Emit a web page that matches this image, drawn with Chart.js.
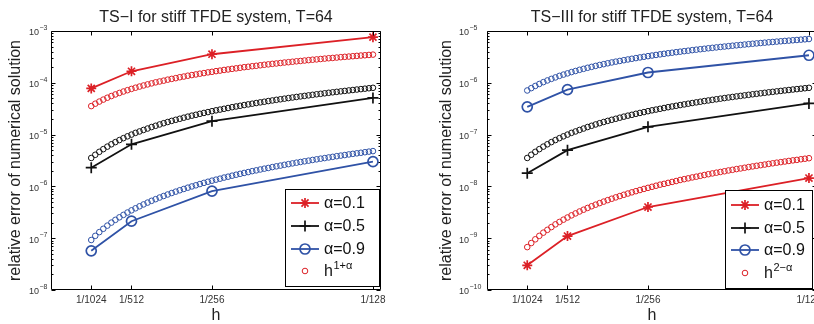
<!DOCTYPE html>
<html>
<head>
<meta charset="utf-8">
<script src="https://cdn.jsdelivr.net/npm/chart.js@4/dist/chart.umd.min.js"></script>
<style>
html,body{margin:0;padding:0;background:#fff;overflow:hidden}
#wrap{position:relative;width:814px;height:324px;overflow:hidden;background:#fff}
canvas{position:absolute;top:0}
</style>
</head>
<body>
<div id="wrap">
<canvas id="c1" width="431" height="324" style="left:0;width:431px;height:324px"></canvas>
<canvas id="c2" width="400" height="324" style="left:431px;width:400px;height:324px"></canvas>
</div>
<script>
// ---------- data (h in units of 1/1024) ----------
const hMain = [1, 2, 4, 8];
const xTickValues = [1, 2, 4, 8];
const xTickLabels = ['1/1024', '1/512', '1/256', '1/128'];
const seriesLabels = ['α=0.1', 'α=0.5', 'α=0.9'];

const hFine = [1.0,1.1,1.2,1.3,1.4,1.5,1.6,1.7,1.8,1.9,
  2.0,2.1,2.2,2.3,2.4,2.5,2.6,2.7,2.8,2.9,
  3.0,3.1,3.2,3.3,3.4,3.5,3.6,3.7,3.8,3.9,
  4.0,4.1,4.2,4.3,4.4,4.5,4.6,4.7,4.8,4.9,
  5.0,5.1,5.2,5.3,5.4,5.5,5.6,5.7,5.8,5.9,
  6.0,6.1,6.2,6.3,6.4,6.5,6.6,6.7,6.8,6.9,
  7.0,7.1,7.2,7.3,7.4,7.5,7.6,7.7,7.8,7.9,8.0];

// Left panel: TS-I
const leftTitle = 'TS−I for stiff TFDE system, T=64';
const leftYExps = [-8, -7, -6, -5, -4, -3];
const errL01 = [7.8e-5, 1.67e-4, 3.56e-4, 7.6e-4];
const errL05 = [2.3e-6, 6.5e-6, 1.82e-5, 5.1e-5];
const errL09 = [5.7e-8, 2.13e-7, 8.1e-7, 3.0e-6];
const refL01 = [3.55e-5,3.95e-5,4.34e-5,4.74e-5,5.15e-5,5.55e-5,5.96e-5,6.37e-5,6.79e-5,7.20e-5,
  7.62e-5,8.04e-5,8.46e-5,8.88e-5,9.31e-5,9.74e-5,1.02e-4,1.06e-4,1.10e-4,1.15e-4,
  1.19e-4,1.23e-4,1.28e-4,1.32e-4,1.37e-4,1.41e-4,1.45e-4,1.50e-4,1.54e-4,1.59e-4,
  1.63e-4,1.68e-4,1.72e-4,1.77e-4,1.81e-4,1.86e-4,1.90e-4,1.95e-4,2.00e-4,2.04e-4,
  2.09e-4,2.13e-4,2.18e-4,2.23e-4,2.27e-4,2.32e-4,2.36e-4,2.41e-4,2.46e-4,2.50e-4,
  2.55e-4,2.60e-4,2.64e-4,2.69e-4,2.74e-4,2.79e-4,2.83e-4,2.88e-4,2.93e-4,2.98e-4,
  3.02e-4,3.07e-4,3.12e-4,3.17e-4,3.21e-4,3.26e-4,3.31e-4,3.36e-4,3.40e-4,3.45e-4,3.50e-4];
const refL05 = [3.54e-6,4.08e-6,4.65e-6,5.24e-6,5.86e-6,6.50e-6,7.16e-6,7.84e-6,8.54e-6,9.26e-6,
  1.00e-5,1.08e-5,1.15e-5,1.23e-5,1.31e-5,1.40e-5,1.48e-5,1.57e-5,1.66e-5,1.75e-5,
  1.84e-5,1.93e-5,2.02e-5,2.12e-5,2.22e-5,2.32e-5,2.41e-5,2.52e-5,2.62e-5,2.72e-5,
  2.83e-5,2.94e-5,3.04e-5,3.15e-5,3.26e-5,3.38e-5,3.49e-5,3.60e-5,3.72e-5,3.83e-5,
  3.95e-5,4.07e-5,4.19e-5,4.31e-5,4.44e-5,4.56e-5,4.69e-5,4.81e-5,4.94e-5,5.07e-5,
  5.20e-5,5.33e-5,5.46e-5,5.59e-5,5.72e-5,5.86e-5,6.00e-5,6.13e-5,6.27e-5,6.41e-5,
  6.55e-5,6.69e-5,6.83e-5,6.97e-5,7.12e-5,7.26e-5,7.41e-5,7.55e-5,7.70e-5,7.85e-5,8.00e-5];
const refL09 = [9.23e-8,1.11e-7,1.31e-7,1.52e-7,1.75e-7,2.00e-7,2.26e-7,2.53e-7,2.82e-7,3.13e-7,
  3.45e-7,3.78e-7,4.13e-7,4.49e-7,4.87e-7,5.27e-7,5.67e-7,6.10e-7,6.53e-7,6.98e-7,
  7.45e-7,7.92e-7,8.42e-7,8.92e-7,9.45e-7,9.98e-7,1.05e-6,1.11e-6,1.17e-6,1.23e-6,
  1.29e-6,1.35e-6,1.41e-6,1.48e-6,1.54e-6,1.61e-6,1.68e-6,1.75e-6,1.82e-6,1.89e-6,
  1.97e-6,2.04e-6,2.12e-6,2.20e-6,2.27e-6,2.36e-6,2.44e-6,2.52e-6,2.61e-6,2.69e-6,
  2.78e-6,2.87e-6,2.96e-6,3.05e-6,3.14e-6,3.24e-6,3.33e-6,3.43e-6,3.52e-6,3.62e-6,
  3.72e-6,3.83e-6,3.93e-6,4.03e-6,4.14e-6,4.25e-6,4.35e-6,4.46e-6,4.57e-6,4.69e-6,4.80e-6];

// Right panel: TS-III
const rightTitle = 'TS−III for stiff TFDE system, T=64';
const rightYExps = [-10, -9, -8, -7, -6, -5];
const errR01 = [3.0e-10, 1.1e-9, 4.0e-9, 1.45e-8];
const errR05 = [1.8e-8, 5.0e-8, 1.41e-7, 4.0e-7];
const errR09 = [3.43e-7, 7.4e-7, 1.58e-6, 3.4e-6];
const refR01 = [6.73e-10,8.07e-10,9.52e-10,1.11e-9,1.28e-9,1.45e-9,1.64e-9,1.85e-9,2.06e-9,2.28e-9,
  2.51e-9,2.76e-9,3.01e-9,3.28e-9,3.55e-9,3.84e-9,4.14e-9,4.44e-9,4.76e-9,5.09e-9,
  5.43e-9,5.78e-9,6.14e-9,6.51e-9,6.89e-9,7.28e-9,7.68e-9,8.09e-9,8.51e-9,8.94e-9,
  9.38e-9,9.83e-9,1.03e-8,1.08e-8,1.12e-8,1.17e-8,1.22e-8,1.27e-8,1.33e-8,1.38e-8,
  1.43e-8,1.49e-8,1.54e-8,1.60e-8,1.66e-8,1.72e-8,1.78e-8,1.84e-8,1.90e-8,1.96e-8,
  2.03e-8,2.09e-8,2.16e-8,2.22e-8,2.29e-8,2.36e-8,2.43e-8,2.50e-8,2.57e-8,2.64e-8,
  2.72e-8,2.79e-8,2.87e-8,2.94e-8,3.02e-8,3.10e-8,3.18e-8,3.25e-8,3.34e-8,3.42e-8,3.50e-8];
const refR05 = [3.54e-8,4.08e-8,4.65e-8,5.24e-8,5.86e-8,6.50e-8,7.16e-8,7.84e-8,8.54e-8,9.26e-8,
  1.00e-7,1.08e-7,1.15e-7,1.23e-7,1.31e-7,1.40e-7,1.48e-7,1.57e-7,1.66e-7,1.75e-7,
  1.84e-7,1.93e-7,2.02e-7,2.12e-7,2.22e-7,2.32e-7,2.41e-7,2.52e-7,2.62e-7,2.72e-7,
  2.83e-7,2.94e-7,3.04e-7,3.15e-7,3.26e-7,3.38e-7,3.49e-7,3.60e-7,3.72e-7,3.83e-7,
  3.95e-7,4.07e-7,4.19e-7,4.31e-7,4.44e-7,4.56e-7,4.69e-7,4.81e-7,4.94e-7,5.07e-7,
  5.20e-7,5.33e-7,5.46e-7,5.59e-7,5.72e-7,5.86e-7,6.00e-7,6.13e-7,6.27e-7,6.41e-7,
  6.55e-7,6.69e-7,6.83e-7,6.97e-7,7.12e-7,7.26e-7,7.41e-7,7.55e-7,7.70e-7,7.85e-7,8.00e-7];
const refR09 = [7.11e-7,7.89e-7,8.69e-7,9.49e-7,1.03e-6,1.11e-6,1.19e-6,1.27e-6,1.36e-6,1.44e-6,
  1.52e-6,1.61e-6,1.69e-6,1.78e-6,1.86e-6,1.95e-6,2.03e-6,2.12e-6,2.21e-6,2.29e-6,
  2.38e-6,2.47e-6,2.56e-6,2.64e-6,2.73e-6,2.82e-6,2.91e-6,3.00e-6,3.09e-6,3.18e-6,
  3.27e-6,3.36e-6,3.45e-6,3.54e-6,3.63e-6,3.72e-6,3.81e-6,3.90e-6,3.99e-6,4.08e-6,
  4.17e-6,4.27e-6,4.36e-6,4.45e-6,4.54e-6,4.64e-6,4.73e-6,4.82e-6,4.92e-6,5.01e-6,
  5.10e-6,5.20e-6,5.29e-6,5.38e-6,5.48e-6,5.57e-6,5.67e-6,5.76e-6,5.86e-6,5.95e-6,
  6.05e-6,6.14e-6,6.24e-6,6.33e-6,6.43e-6,6.52e-6,6.62e-6,6.71e-6,6.81e-6,6.91e-6,7.00e-6];

// ---------- styling ----------
const RED = '#dc2026', BLACK = '#111111', BLUE = '#2f52a6';
const FONT = '"Liberation Sans", Arial, Helvetica, sans-serif';

function pts(xs, ys) { return xs.map((x, i) => ({x: x, y: ys[i]})); }

function mainDs(label, xs, ys, color, style, r) {
  return {label: label, data: pts(xs, ys), borderColor: color, backgroundColor: color,
    borderWidth: 1.8, pointStyle: style, pointRadius: r, pointBorderWidth: 1.7,
    pointBorderColor: color, pointBackgroundColor: 'rgba(0,0,0,0)', tension: 0, showLine: true};
}
function refDs(label, xs, ys, color) {
  return {label: label, data: pts(xs, ys), borderColor: color, backgroundColor: color,
    showLine: false, pointStyle: 'circle', pointRadius: 2.8, pointBorderWidth: 1,
    pointBorderColor: color, pointBackgroundColor: 'rgba(0,0,0,0)', borderWidth: 1};
}

const panelDecor = {
  id: 'panelDecor',
  afterDraw(chart, args, o) {
    const ctx = chart.ctx, a = chart.chartArea, xs = chart.scales.x, ys = chart.scales.y;
    const L = Math.round(a.left) + 0.5, R = Math.round(a.right) - 0.5;
    const T = Math.round(a.top) + 0.5, B = Math.round(a.bottom) - 0.5;
    ctx.save();
    // box
    ctx.strokeStyle = '#000'; ctx.lineWidth = 1;
    ctx.beginPath(); ctx.rect(L, T, R - L, B - T); ctx.stroke();
    // x ticks (bottom & top, inward)
    ctx.beginPath();
    o.xTicks.forEach(v => {
      const px = Math.round(xs.getPixelForValue(v)) + 0.5;
      ctx.moveTo(px, B); ctx.lineTo(px, B - 4);
      ctx.moveTo(px, T); ctx.lineTo(px, T + 4);
    });
    // y ticks (decades + minor)
    const exps = o.yExps;
    exps.forEach((e, i) => {
      const py = Math.round(ys.getPixelForValue(Math.pow(10, e))) + 0.5;
      ctx.moveTo(L, py); ctx.lineTo(L + 4, py);
      ctx.moveTo(R, py); ctx.lineTo(R - 4, py);
      if (i < exps.length - 1) {
        for (let m = 2; m <= 9; m++) {
          const pm = Math.round(ys.getPixelForValue(m * Math.pow(10, e))) + 0.5;
          ctx.moveTo(L, pm); ctx.lineTo(L + 2, pm);
          ctx.moveTo(R, pm); ctx.lineTo(R - 2, pm);
        }
      }
    });
    ctx.stroke();
    // y tick labels 10^e
    ctx.fillStyle = '#333';
    exps.forEach(e => {
      const py = ys.getPixelForValue(Math.pow(10, e));
      const x0 = a.left - o.yLabOff;
      ctx.font = '9px ' + FONT; ctx.textAlign = 'left'; ctx.textBaseline = 'middle';
      ctx.fillText('10', x0, py + 2);
      const w = ctx.measureText('10').width;
      ctx.font = '7px ' + FONT;
      ctx.fillText('−' + String(-e), x0 + w + 0.5, py - 3);
    });
    // title
    ctx.fillStyle = '#222';
    ctx.font = '16px ' + FONT; ctx.textAlign = 'center'; ctx.textBaseline = 'alphabetic';
    ctx.fillText(o.title, (a.left + a.right) / 2, 21.5);
    // x label
    ctx.fillText('h', (a.left + a.right) / 2, 320);
    // y label
    ctx.save();
    ctx.translate(a.left - o.yTitleOff, (a.top + a.bottom) / 2);
    ctx.rotate(-Math.PI / 2);
    ctx.textBaseline = 'middle';
    ctx.fillText('relative error of numerical solution', 0, 0);
    ctx.restore();
    // legend
    const lg = o.legend;
    ctx.fillStyle = '#fff';
    ctx.fillRect(lg.x, lg.y, lg.w, lg.h);
    ctx.strokeStyle = '#000'; ctx.lineWidth = 1;
    ctx.strokeRect(lg.x + 0.5, lg.y + 0.5, lg.w, lg.h);
    lg.items.forEach((idx, i) => {
      const ds = chart.data.datasets[idx];
      const cy = lg.y + lg.rows[i];
      const x0 = lg.x + 6, x1 = lg.x + 34, cx = (x0 + x1) / 2;
      if (ds.showLine) {
        ctx.strokeStyle = ds.borderColor; ctx.lineWidth = ds.borderWidth;
        ctx.beginPath(); ctx.moveTo(x0, cy); ctx.lineTo(x1, cy); ctx.stroke();
      }
      ctx.strokeStyle = ds.pointBorderColor; ctx.fillStyle = 'rgba(0,0,0,0)';
      ctx.lineWidth = ds.pointBorderWidth;
      Chart.helpers.drawPoint(ctx, {pointStyle: ds.pointStyle, radius: ds.pointRadius,
        rotation: 0, borderWidth: ds.pointBorderWidth}, cx, cy);
      ctx.fillStyle = '#111';
      ctx.font = '16px ' + FONT; ctx.textAlign = 'left'; ctx.textBaseline = 'middle';
      const tx = lg.x + 39;
      ctx.fillText(ds.label, tx, cy + 1);
      if (i === lg.items.length - 1 && lg.sup) {
        const w = ctx.measureText(ds.label).width;
        ctx.font = '11px ' + FONT;
        ctx.fillText(lg.sup, tx + w + 0.5, cy - 5);
      }
    });
    ctx.restore();
  }
};

function makeChart(id, cfg) {
  return new Chart(document.getElementById(id), {
    type: 'scatter',
    data: {datasets: cfg.datasets},
    options: {
      responsive: false, animation: false, devicePixelRatio: 1, events: [],
      layout: {padding: {top: 31, left: 0, right: cfg.padRight, bottom: 0}},
      plugins: {legend: {display: false}, tooltip: {enabled: false}, title: {display: false},
        panelDecor: cfg.decor},
      scales: {
        x: {type: 'linear', min: 0, max: 8.2,
          afterBuildTicks: s => { s.ticks = xTickValues.map(v => ({value: v})); },
          afterFit: s => { s.height = 34; },
          grid: {display: false, drawTicks: false, tickLength: 0}, border: {display: false},
          ticks: {autoSkip: false, maxRotation: 0, minRotation: 0, padding: 4, color: '#333',
            font: {family: FONT, size: 10},
            callback: (v, i) => xTickLabels[i]}},
        y: {type: 'logarithmic', min: cfg.ymin, max: cfg.ymax,
          afterBuildTicks: s => { s.ticks = cfg.yExps.map(e => ({value: Math.pow(10, e)})); },
          afterFit: s => { s.width = cfg.yWidth; },
          grid: {display: false, drawTicks: false}, border: {display: false},
          ticks: {display: false}}
      }
    },
    plugins: [panelDecor]
  });
}

makeChart('c1', {
  padRight: 50, yWidth: 51, ymin: 1e-8, ymax: 1e-3, yExps: leftYExps,
  datasets: [
    mainDs(seriesLabels[0], hMain, errL01, RED, 'star', 5),
    mainDs(seriesLabels[1], hMain, errL05, BLACK, 'cross', 5.5),
    mainDs(seriesLabels[2], hMain, errL09, BLUE, 'circle', 5),
    refDs('h', hFine, refL01, RED),
    refDs('h', hFine, refL05, BLACK),
    refDs('h', hFine, refL09, BLUE)
  ],
  decor: {title: leftTitle, xTicks: xTickValues, yExps: leftYExps, yLabOff: 22, yTitleOff: 35,
    legend: {x: 285, y: 189, w: 94, h: 97, rows: [14, 37, 60, 82], items: [0, 1, 2, 3], sup: '1+α'}}
});

makeChart('c2', {
  padRight: 14, yWidth: 56, ymin: 1e-10, ymax: 1e-5, yExps: rightYExps,
  datasets: [
    mainDs(seriesLabels[0], hMain, errR01, RED, 'star', 5),
    mainDs(seriesLabels[1], hMain, errR05, BLACK, 'cross', 5.5),
    mainDs(seriesLabels[2], hMain, errR09, BLUE, 'circle', 5),
    refDs('h', hFine, refR01, RED),
    refDs('h', hFine, refR05, BLACK),
    refDs('h', hFine, refR09, BLUE)
  ],
  decor: {title: rightTitle, xTicks: xTickValues, yExps: rightYExps, yLabOff: 28, yTitleOff: 40,
    legend: {x: 294, y: 190, w: 87, h: 98, rows: [15, 38, 60, 83], items: [0, 1, 2, 3], sup: '2−α'}}
});
</script>
</body>
</html>
